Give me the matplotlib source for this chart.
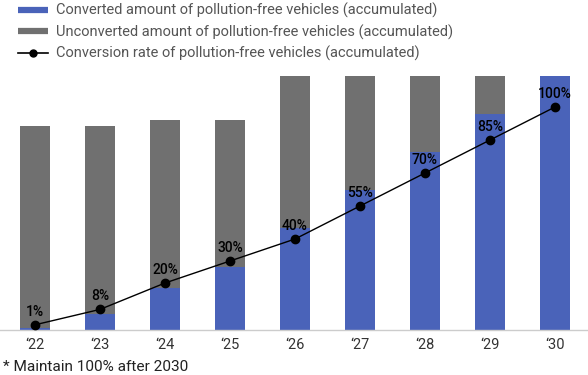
import matplotlib
matplotlib.use('Agg')

import numpy as np
import matplotlib.pyplot as plt
from matplotlib.lines import Line2D

plt.rcParams['font.family'] = ['Roboto', 'DejaVu Sans']

# data
years = ['\u201822', '\u201823', '\u201824', '\u201825', '\u201826', '\u201827', '\u201828', '\u201829', '\u201830']
totals = [80.3, 80.3, 82.7, 82.7, 100, 100, 100, 100, 100]
rates = [1, 8, 20, 30, 40, 55, 70, 85, 100]

blue = '#4a63b9'
grey = '#707070'

totals = np.array(totals)
rates = np.array(rates)
converted = totals * rates / 100
unconverted = totals - converted
x = np.arange(len(years))

W, H = 588, 375
fig = plt.figure(figsize=(W / 100, H / 100), dpi=100)
ax = fig.add_axes([0, 1 - 330 / H, 1, (330 - 76) / H])

ax.bar(x, converted, width=0.46, color=blue, zorder=2)
ax.bar(x, unconverted, bottom=converted, width=0.46, color=grey, zorder=2)
ax.set_xlim(-35 / 65, (W - 35) / 65)
ax.set_ylim(0, 100)

for s in ['top', 'right', 'left']:
    ax.spines[s].set_visible(False)
ax.spines['bottom'].set_color('#cccccc')
ax.spines['bottom'].set_linewidth(1)
ax.set_yticks([])
ax.set_xticks(x)
ax.set_xticklabels(years, fontsize=10.5, color='#333333')
ax.tick_params(axis='x', length=0, pad=6)

# rate line on secondary axis
ax2 = ax.twinx()
ax2.set_ylim(-1.36, 114.1)
ax2.axis('off')
ax2.plot(x, rates, color='black', lw=1, marker='o', markersize=6, zorder=3)
for xi, r in zip(x, rates):
    ax2.annotate(f'{r}%', (xi, r), xytext=(0, 6.5), textcoords='offset points',
                 ha='center', va='baseline', fontsize=10, fontweight='medium', color='black')

handles = [
    Line2D([0], [0], color=blue, lw=4.5, solid_capstyle='butt'),
    Line2D([0], [0], color=grey, lw=4.5, solid_capstyle='butt'),
    Line2D([0], [0], color='black', lw=1.2, marker='o', markersize=5),
]
labels = [
    'Converted amount of pollution-free vehicles (accumulated)',
    'Unconverted amount of pollution-free vehicles (accumulated)',
    'Conversion rate of pollution-free vehicles (accumulated)',
]
fig.legend(handles, labels, loc='upper left', bbox_to_anchor=(12 / W, 1 + 3 / H),
           frameon=False, fontsize=10.5, labelcolor='#555555', handlelength=2.1,
           handletextpad=0.55, labelspacing=0.42, borderaxespad=0)

fig.text(3 / W, 1 - 367 / H, '* Maintain 100% after 2030', fontsize=11.1,
         color='#222222', va='center', ha='left')

fig.savefig('out.png', dpi=100)
